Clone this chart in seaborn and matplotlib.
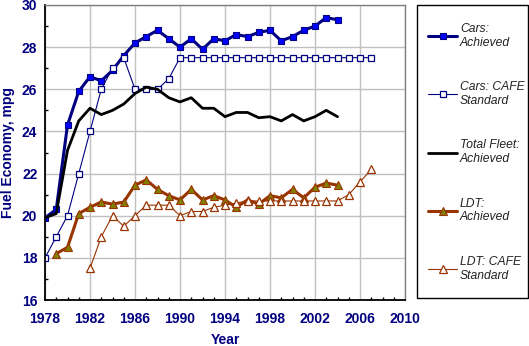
import matplotlib
matplotlib.use("Agg")
import matplotlib.pyplot as plt
import seaborn as sns
import pandas as pd
from matplotlib.patches import Rectangle
from matplotlib.ticker import MultipleLocator

sns.set_style("white")
plt.rcParams['font.family'] = ['Liberation Sans', 'DejaVu Sans']

years_cars_ach = list(range(1978, 2005))
cars_achieved = [19.9, 20.3, 24.3, 25.9, 26.6, 26.4, 26.9, 27.6, 28.2, 28.5, 28.8, 28.4,
                 28.0, 28.4, 27.9, 28.4, 28.3, 28.6, 28.5, 28.7, 28.8, 28.3, 28.5, 28.8,
                 29.0, 29.4, 29.3]

years_cars_std = list(range(1978, 2008))
cars_standard = [18.0, 19.0, 20.0, 22.0, 24.0, 26.0, 27.0, 27.5, 26.0, 26.0, 26.0, 26.5,
                 27.5, 27.5, 27.5, 27.5, 27.5, 27.5, 27.5, 27.5, 27.5, 27.5, 27.5, 27.5,
                 27.5, 27.5, 27.5, 27.5, 27.5, 27.5]

years_fleet = list(range(1978, 2005))
fleet_achieved = [19.9, 20.1, 23.1, 24.5, 25.1, 24.8, 25.0, 25.3, 25.8, 26.1, 26.0, 25.6,
                  25.4, 25.6, 25.1, 25.1, 24.7, 24.9, 24.9, 24.65, 24.7, 24.5, 24.8, 24.5,
                  24.7, 25.0, 24.7]

years_ldt_ach = list(range(1979, 2005))
ldt_achieved = [18.2, 18.5, 20.1, 20.4, 20.65, 20.55, 20.65, 21.45, 21.7, 21.25, 20.95,
                20.75, 21.25, 20.75, 20.95, 20.75, 20.4, 20.75, 20.55, 20.95, 20.85,
                21.25, 20.85, 21.35, 21.55, 21.45]

years_ldt_std = list(range(1982, 2008))
ldt_standard = [17.5, 19.0, 20.0, 19.5, 20.0, 20.5, 20.5, 20.5, 20.0, 20.2, 20.2, 20.4,
                20.5, 20.6, 20.7, 20.7, 20.7, 20.7, 20.7, 20.7, 20.7, 20.7, 20.7, 21.0,
                21.6, 22.2]

x_ticks = list(range(1978, 2011, 4))
y_ticks = list(range(16, 31, 2))

labels = ["Cars:\nAchieved", "Cars: CAFE\nStandard", "Total Fleet:\nAchieved",
          "LDT:\nAchieved", "LDT: CAFE\nStandard"]

NAVY = "#000080"
BROWN = "#993300"

fig = plt.figure(figsize=(5.29, 3.46), dpi=100)
ax = fig.add_axes([45/529, 46/346, 360/529, 295/346])

sns.lineplot(x=years_cars_ach, y=cars_achieved, ax=ax, color=NAVY, lw=2.2,
             marker='s', markersize=4.2, markerfacecolor='#0000FF', markeredgecolor=NAVY,
             markeredgewidth=0.8, label=labels[0])
sns.lineplot(x=years_cars_std, y=cars_standard, ax=ax, color=NAVY, lw=0.8,
             marker='s', markersize=4.0, markerfacecolor='white', markeredgecolor=NAVY,
             markeredgewidth=0.9, label=labels[1])
sns.lineplot(x=years_fleet, y=fleet_achieved, ax=ax, color='black', lw=2.0,
             label=labels[2])
sns.lineplot(x=years_ldt_ach, y=ldt_achieved, ax=ax, color=BROWN, lw=2.2,
             marker='^', markersize=5.2, markerfacecolor='#808000', markeredgecolor=BROWN,
             markeredgewidth=0.8, label=labels[3])
sns.lineplot(x=years_ldt_std, y=ldt_standard, ax=ax, color=BROWN, lw=0.8,
             marker='^', markersize=5.2, markerfacecolor='white', markeredgecolor=BROWN,
             markeredgewidth=0.9, label=labels[4])

ax.set_xlim(1978, 2010)
ax.set_ylim(16, 30)
ax.set_xticks(x_ticks)
ax.set_yticks(y_ticks)
ax.xaxis.set_minor_locator(MultipleLocator(1))
ax.yaxis.set_minor_locator(MultipleLocator(1))
ax.grid(True, which='major', color='#c0c0c0', lw=1.0)
ax.set_axisbelow(True)

for s in ['top', 'right']:
    ax.spines[s].set_color('#808080')
    ax.spines[s].set_linewidth(1.0)
for s in ['left', 'bottom']:
    ax.spines[s].set_color('black')
    ax.spines[s].set_linewidth(1.3)

ax.tick_params(axis='y', which='major', direction='out', length=3.5, width=1, color='black',
               pad=2, labelsize=10, labelcolor=NAVY)
ax.tick_params(axis='y', which='minor', direction='in', length=2.5, width=1, color='black', left=True)
ax.tick_params(axis='x', which='major', direction='inout', length=5, width=1, color='black',
               pad=6, labelsize=10, labelcolor=NAVY)
ax.tick_params(axis='x', which='minor', direction='in', length=2.5, width=1, color='black', bottom=True)
for lab in ax.get_xticklabels() + ax.get_yticklabels():
    lab.set_fontweight('bold')

ax.set_xlabel("Year", fontsize=10, fontweight='bold', color=NAVY, labelpad=5)
ax.set_ylabel("Fuel Economy, mpg", fontsize=10, fontweight='bold', color=NAVY, labelpad=5)

handles, lbls = ax.get_legend_handles_labels()
ax.get_legend().remove()
fig.patches.append(Rectangle((417/529, 48/346), 111/529, 293/346, transform=fig.transFigure,
                             fill=False, edgecolor='black', lw=1.0))
leg = fig.legend(handles, lbls, loc='upper left', bbox_to_anchor=(422/529, 1 - 17/346),
                 frameon=False, prop={'size': 8.7, 'style': 'italic'},
                 handlelength=2.4, handletextpad=0.25, labelspacing=2.68, borderpad=0)
for t in leg.get_texts():
    t.set_color('#222222')

fig.savefig("out.png", dpi=100)
